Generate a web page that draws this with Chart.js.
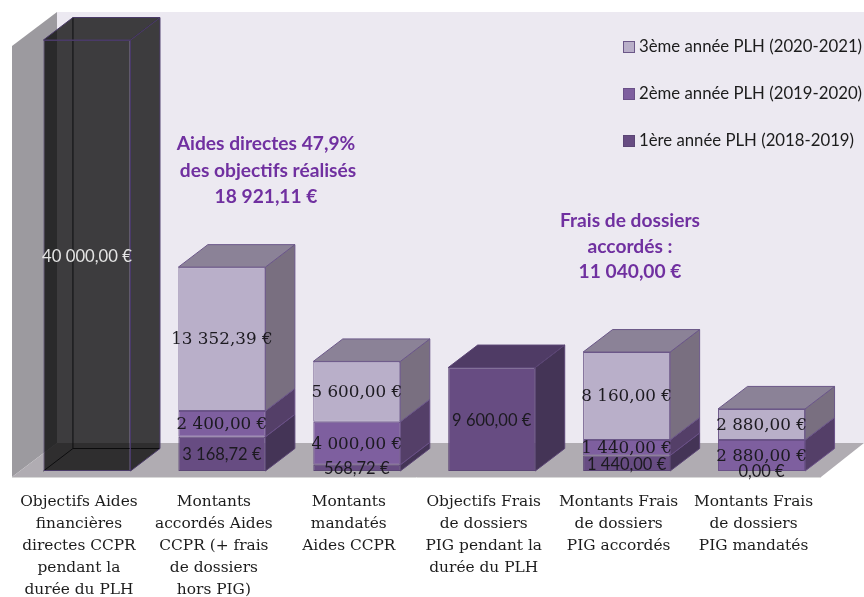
<!DOCTYPE html>
<html>
<head>
<meta charset="utf-8">
<script src="https://cdn.jsdelivr.net/npm/chart.js@4"></script>
<style>
  body { margin: 0; background: #fff; }
  canvas { display: block; }
</style>
</head>
<body>
<canvas id="chart" width="864" height="597"></canvas>
<script>
// Data
const categories = [
  ['Objectifs Aides', 'financières', 'directes CCPR', 'pendant la', 'durée du PLH'],
  ['Montants', 'accordés Aides', 'CCPR (+ frais', 'de dossiers', 'hors PIG)'],
  ['Montants', 'mandatés', 'Aides CCPR'],
  ['Objectifs Frais', 'de dossiers', 'PIG pendant la', 'durée du PLH'],
  ['Montants Frais', 'de dossiers', 'PIG accordés'],
  ['Montants Frais', 'de dossiers', 'PIG mandatés']
];
const year1 = [40000, 3168.72, 568.72, 9600, 1440, 0];
const year2 = [null, 2400, 4000, null, 1440, 2880];
const year3 = [null, 13352.39, 5600, null, 8160, 2880];
const seriesNames = ['1ère année PLH (2018-2019)', '2ème année PLH (2019-2020)', '3ème année PLH (2020-2021)'];
const yMax = 40000;

// 3D look
const depthX = 29.5;
const depthY = -22.5;
const faces = [
  { front: '#674c82', side: '#443456', top: '#4f3b65', line: '#5b4575' },
  { front: '#7e5f9f', side: '#543f68', top: '#5f4878', line: '#6a5088' },
  { front: '#b9afc9', side: '#796f80', top: '#8b8297', line: '#6b5788' }
];
const blackFace = { front: 'rgba(8,8,8,0.77)', side: 'rgba(8,8,8,0.77)', top: 'rgba(8,8,8,0.77)', line: '#4a3a68' };

function faceOf(datasetIndex, index) {
  return datasetIndex == 0 && index == 0 ? blackFace : faces[datasetIndex];
}

function poly(ctx, points, fill, line) {
  ctx.beginPath();
  points.forEach((p, i) => i ? ctx.lineTo(p[0], p[1]) : ctx.moveTo(p[0], p[1]));
  ctx.closePath();
  ctx.fillStyle = fill;
  ctx.fill();
  if (line) {
    ctx.strokeStyle = line;
    ctx.lineWidth = 1;
    ctx.stroke();
  }
}

function euro(v) {
  const parts = v.toFixed(2).split('.');
  return parts[0].replace(/\B(?=(\d{3})+$)/g, ' ') + ',' + parts[1] + ' €';
}

// Walls, floor, side and top faces go under the bars
const box3d = {
  id: 'box3d',
  beforeDatasetsDraw(chart) {
    const ctx = chart.ctx;
    ctx.save();
    poly(ctx, [[57, 12], [864, 12], [864, 443], [57, 443]], '#ece9f1');
    poly(ctx, [[12, 46], [57, 12], [57, 443], [12, 477]], '#9c9a9f');
    poly(ctx, [[12, 477], [57, 443], [864, 443], [821, 477]], '#b0acb2');
    ctx.strokeStyle = '#d8d8d8';
    ctx.beginPath();
    ctx.moveTo(12, 477.5);
    ctx.lineTo(821, 477.5);
    ctx.stroke();

    categories.forEach((c, j) => {
      let topSeg = null;
      chart.data.datasets.forEach((ds, i) => {
        if (ds.data[j] == null) return;
        const bar = chart.getDatasetMeta(i).data[j];
        const right = bar.x + bar.width / 2;
        const face = faceOf(i, j);
        if (j == 0) {
          // the black bar is see-through, its back edges show
          const left = bar.x - bar.width / 2;
          ctx.strokeStyle = '#1c1c22';
          ctx.lineWidth = 1;
          ctx.beginPath();
          ctx.moveTo(left + depthX, bar.y + depthY);
          ctx.lineTo(left + depthX, bar.base + depthY);
          ctx.lineTo(right + depthX, bar.base + depthY);
          ctx.moveTo(left + depthX, bar.base + depthY);
          ctx.lineTo(left, bar.base);
          ctx.stroke();
        }
        if (bar.base - bar.y > 0.5) {
          poly(ctx, [[right, bar.y], [right + depthX, bar.y + depthY], [right + depthX, bar.base + depthY], [right, bar.base]], face.side, face.line);
          topSeg = { bar, face };
        }
      });
      if (topSeg) {
        const b = topSeg.bar;
        const left = b.x - b.width / 2;
        const right = b.x + b.width / 2;
        poly(ctx, [[left, b.y], [left + depthX, b.y + depthY], [right + depthX, b.y + depthY], [right, b.y]], topSeg.face.top, topSeg.face.line);
      }
    });
    ctx.restore();
  },
  afterDatasetsDraw(chart) {
    const ctx = chart.ctx;
    ctx.save();
    ctx.textAlign = 'center';
    ctx.textBaseline = 'middle';

    // Value labels
    chart.data.datasets.forEach((ds, i) => {
      ds.data.forEach((v, j) => {
        if (v == null) return;
        const bar = chart.getDatasetMeta(i).data[j];
        if (i == 0 && j == 0) {
          ctx.fillStyle = '#e4e4e4';
          ctx.font = '16.7px Lato';
        } else if (i == 0) {
          ctx.fillStyle = '#1c1a20';
          ctx.font = '16.5px Lato';
        } else {
          ctx.fillStyle = '#1c1a20';
          ctx.font = '16.8px "DejaVu Serif"';
        }
        ctx.fillText(euro(v), bar.x, (bar.y + bar.base) / 2 + 1);
      });
    });

    // Purple notes
    ctx.fillStyle = '#7030a0';
    ctx.font = 'bold 19.2px Lato';
    ctx.fillText('Aides directes 47,9%', 266, 144);
    ctx.fillText('des objectifs réalisés', 268, 171);
    ctx.fillText('18 921,11 €', 266, 197);
    ctx.fillText('Frais de dossiers', 630, 221);
    ctx.fillText('accordés :', 630, 247);
    ctx.fillText('11 040,00 €', 630, 272);

    // Legend, last series first
    ctx.textAlign = 'left';
    ctx.font = '16.75px Lato';
    [2, 1, 0].forEach((i, row) => {
      const y = 47 + row * 47;
      ctx.fillStyle = faces[i].front;
      ctx.strokeStyle = faces[i].line;
      ctx.lineWidth = 1;
      ctx.fillRect(623.5, y - 5.5, 11, 11);
      ctx.strokeRect(623.5, y - 5.5, 11, 11);
      ctx.fillStyle = '#1c1c1c';
      ctx.fillText(seriesNames[i], 639, y);
    });
    ctx.restore();
  }
};

function makeDataset(i, values) {
  return {
    label: seriesNames[i],
    data: values,
    backgroundColor: c => faceOf(i, c.dataIndex).front,
    borderColor: c => faceOf(i, c.dataIndex).line,
    borderWidth: 1,
    borderSkipped: false,
    barPercentage: 1,
    categoryPercentage: 0.645
  };
}

new Chart(document.querySelector('#chart'), {
  type: 'bar',
  data: {
    labels: categories,
    datasets: [makeDataset(0, year1), makeDataset(1, year2), makeDataset(2, year3)]
  },
  options: {
    responsive: false,
    animation: false,
    layout: { padding: { left: 19.5, right: 35, top: 40, bottom: 0 } },
    plugins: {
      legend: { display: false },
      tooltip: { enabled: false }
    },
    scales: {
      x: {
        stacked: true,
        afterFit: s => { s.height = 126; },
        grid: { display: false },
        border: { display: false },
        ticks: {
          autoSkip: false,
          maxRotation: 0,
          padding: 12,
          labelOffset: -8,
          color: '#1c1c1c',
          font: { family: '"DejaVu Serif"', size: 15.4, lineHeight: 1.43 }
        }
      },
      y: {
        stacked: true,
        display: false,
        min: 0,
        max: yMax
      }
    }
  },
  plugins: [box3d]
});
</script>
</body>
</html>
